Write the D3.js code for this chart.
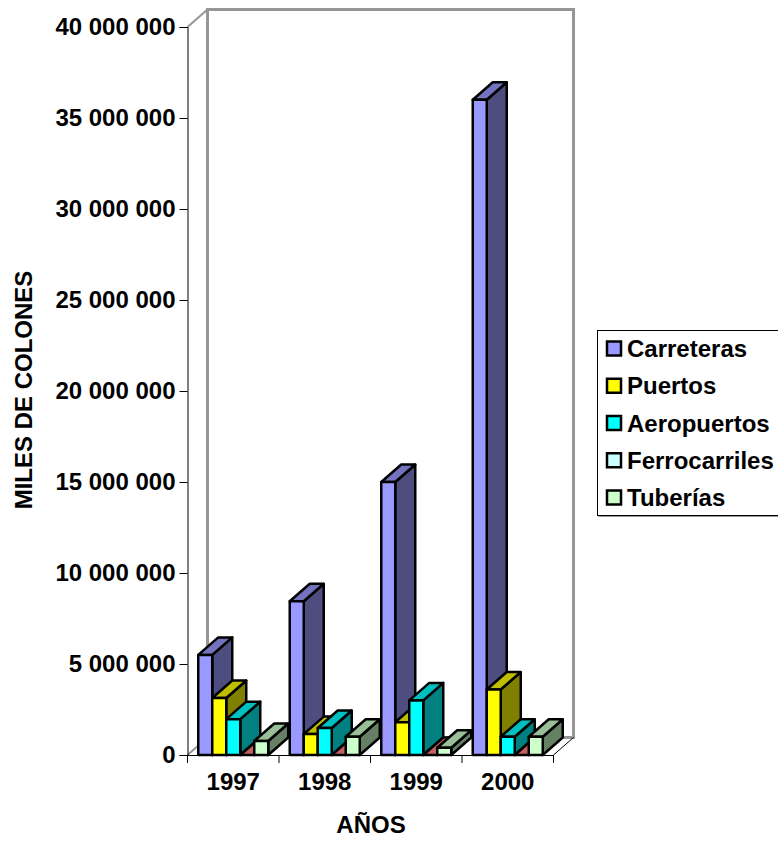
<!DOCTYPE html>
<html>
<head>
<meta charset="utf-8">
<script src="https://d3js.org/d3.v7.min.js"></script>
<style>
  html, body { margin: 0; padding: 0; background: #fff; overflow: hidden; }
  text { font-family: "Liberation Sans", Arial, sans-serif; font-weight: bold; fill: #000; }
</style>
</head>
<body>
<div id="root"></div>
<script>
var years = ["1997", "1998", "1999", "2000"];
var seriesNames = ["Carreteras", "Puertos", "Aeropuertos", "Ferrocarriles", "Tuberías"];
var carreteras = [5500000, 8450000, 15000000, 36000000];
var puertos = [3130000, 1150000, 1800000, 3600000];
var aeropuertos = [1970000, 1480000, 3000000, 1000000];
var ferrocarriles = [0, 0, 0, 0];
var tuberias = [770000, 1000000, 400000, 1000000];
var yTicks = [0, 5000000, 10000000, 15000000, 20000000, 25000000, 30000000, 35000000, 40000000];

var seriesValues = [carreteras, puertos, aeropuertos, ferrocarriles, tuberias];
var frontColors = ["#9999ff", "#ffff00", "#00ffff", "#ccffff", "#ccffcc"];
var topColors = ["#7373bf", "#bfbf00", "#00bfbf", "#c06060", "#99bf99"];
var sideColors = ["#4d4d80", "#808000", "#008080", "#668080", "#668066"];

var width = 778, height = 841;
var left = 187.5, right = 553.5, top0 = 27, bottom = 755;
var dx = 20, dy = 17.5;
var fontSize = 24;

var svg = d3.select("#root").append("svg")
    .attr("width", width)
    .attr("height", height);

var x = d3.scaleBand().domain(years).range([left, right]);
var barPad = (x.bandwidth() - 70) / 2;
var xInner = d3.scaleBand().domain(seriesNames).range([barPad, x.bandwidth() - barPad]);
var y = d3.scaleLinear().domain([0, 40000000]).range([bottom, top0]);

// back walls
var wall = svg.append("g").attr("fill", "none").attr("stroke", "#969696");
wall.append("path")
    .attr("stroke-width", 3)
    .attr("d", "M" + (left + dx) + "," + (bottom - dy) + "V" + (top0 - dy) + "H" + (right + dx) + "V" + (bottom - dy) + "H" + (left + dx));
wall.append("path")
    .attr("stroke-width", 2)
    .attr("d", "M" + left + "," + top0 + "L" + (left + dx) + "," + (top0 - dy) + "M" + left + "," + bottom + "L" + (left + dx) + "," + (bottom - dy));

// floor edge
svg.append("path")
    .attr("fill", "none")
    .attr("stroke", "#000")
    .attr("stroke-width", 1)
    .attr("d", "M" + right + "," + bottom + "L" + (right + dx) + "," + (bottom - dy));

// y axis
var yAxis = d3.axisLeft(y)
    .tickValues(yTicks)
    .tickSize(8)
    .tickPadding(4)
    .tickFormat(function (d) {
        return d3.format(",")(d).replace(/,/g, " ");
    });
var gy = svg.append("g").attr("transform", "translate(" + left + ",0)").call(yAxis);
gy.selectAll("text").style("font-size", fontSize + "px").attr("font-family", null);
gy.selectAll("line, path").attr("stroke", "#000");

// x axis, ticks sit between the categories
var gx = svg.append("g").attr("transform", "translate(0," + bottom + ")")
    .call(d3.axisBottom(x).tickSize(0).tickPadding(18));
gx.selectAll("text").style("font-size", fontSize + "px").attr("font-family", null);
gx.select(".domain").attr("stroke", "#000").attr("stroke-width", 1);
gx.selectAll(".edge")
    .data(years.map(function (d) { return x(d); }).concat([right]))
    .enter().append("line")
    .attr("class", "edge")
    .attr("x1", function (d) { return d; })
    .attr("x2", function (d) { return d; })
    .attr("y1", 0)
    .attr("y2", 8)
    .attr("stroke", "#000");

// bars, drawn left to right so each one covers the side of the previous one
years.forEach(function (year, i) {
    seriesNames.forEach(function (name, s) {
        var x0 = x(year) + xInner(name);
        var x1 = x0 + xInner.bandwidth();
        var yTop = y(seriesValues[s][i]);
        var bar = svg.append("g").attr("stroke", "#000").attr("stroke-width", 2.5).attr("stroke-linejoin", "round");
        bar.append("path")
            .attr("fill", sideColors[s])
            .attr("d", "M" + x1 + "," + bottom + "V" + yTop + "l" + dx + "," + (-dy) + "V" + (bottom - dy) + "Z");
        bar.append("path")
            .attr("fill", topColors[s])
            .attr("d", "M" + x0 + "," + yTop + "H" + x1 + "l" + dx + "," + (-dy) + "H" + (x0 + dx) + "Z");
        if (seriesValues[s][i] > 0) {
            bar.append("rect")
                .attr("x", x0)
                .attr("y", yTop)
                .attr("width", x1 - x0)
                .attr("height", bottom - yTop)
                .attr("fill", frontColors[s]);
        }
    });
});

// axis titles
svg.append("text")
    .attr("x", 371)
    .attr("y", 833)
    .attr("text-anchor", "middle")
    .style("font-size", fontSize + "px")
    .text("AÑOS");
svg.append("text")
    .attr("transform", "translate(32,390) rotate(-90)")
    .attr("text-anchor", "middle")
    .style("font-size", fontSize + "px")
    .text("MILES DE COLONES");

// legend
svg.append("rect")
    .attr("x", 598.5)
    .attr("y", 332)
    .attr("width", 190)
    .attr("height", 185)
    .attr("fill", "#969696");
svg.append("rect")
    .attr("x", 597.5)
    .attr("y", 330.5)
    .attr("width", 190)
    .attr("height", 185)
    .attr("fill", "#fff")
    .attr("stroke", "#000");
var legendRow = d3.scalePoint().domain(seriesNames).range([349, 498]);
var legend = svg.selectAll(".legend")
    .data(seriesNames)
    .enter().append("g")
    .attr("class", "legend")
    .attr("transform", function (d) { return "translate(0," + legendRow(d) + ")"; });
legend.append("rect")
    .attr("x", 607)
    .attr("y", -7.5)
    .attr("width", 14)
    .attr("height", 14)
    .attr("fill", function (d, i) { return frontColors[i]; })
    .attr("stroke", "#000")
    .attr("stroke-width", 2.5);
legend.append("text")
    .attr("x", 627)
    .attr("y", 8)
    .style("font-size", fontSize + "px")
    .text(function (d) { return d; });
</script>
</body>
</html>
